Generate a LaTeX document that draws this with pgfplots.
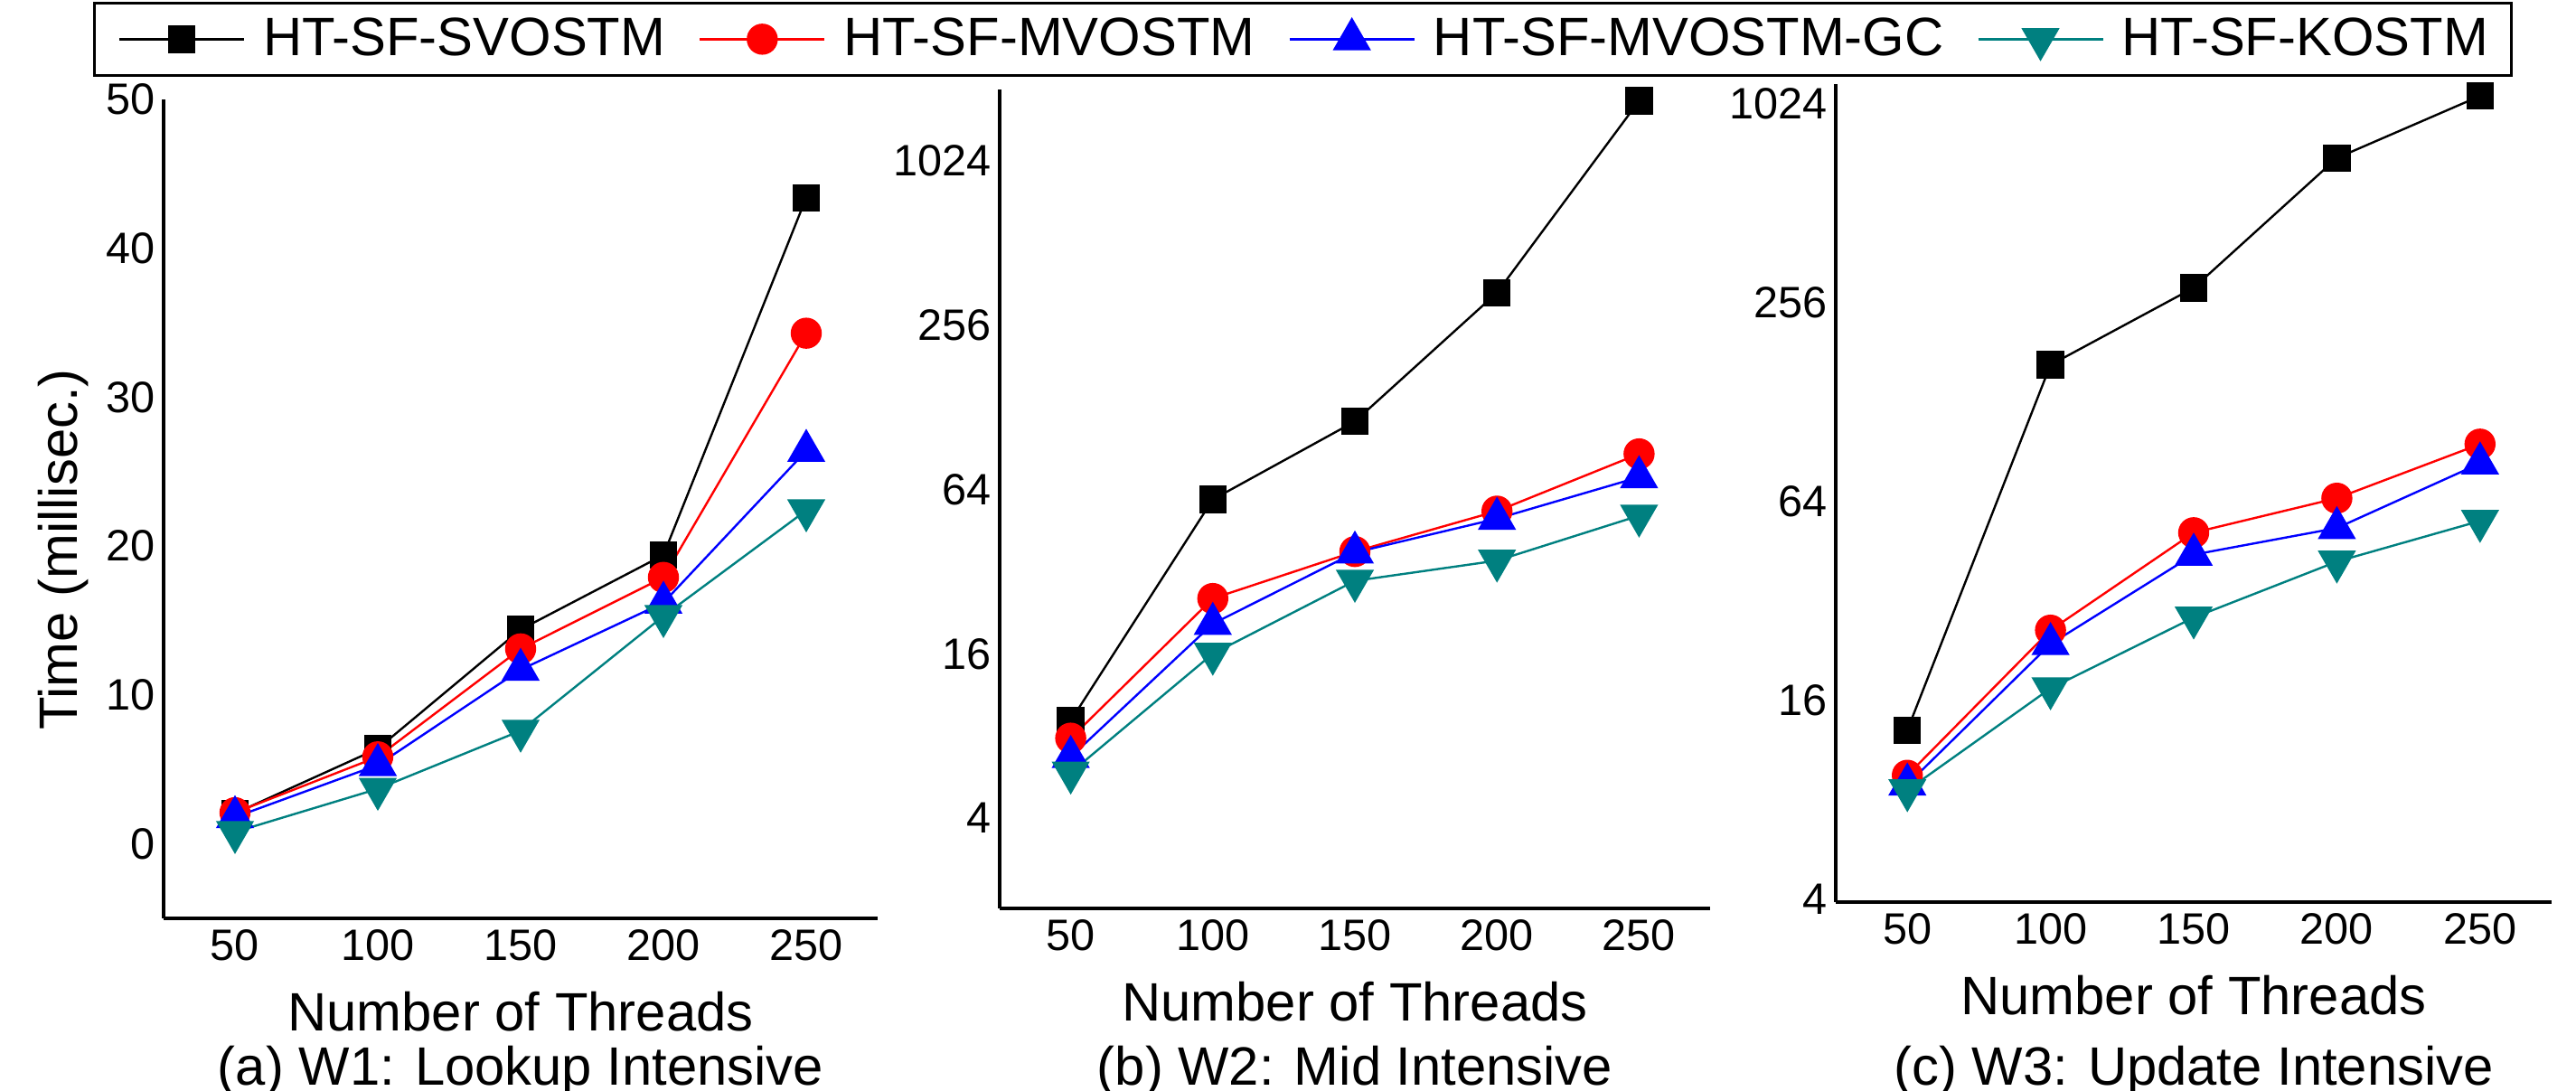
\documentclass[border=0pt]{standalone}
\usepackage{fontspec}
\setmainfont{Liberation Sans}
\usepackage{pgfplots}
\pgfplotsset{compat=1.18}

\definecolor{kteal}{RGB}{0,128,128}

\tikzset{subcap/.style={anchor=base, inner sep=0pt, font=\fontsize{15}{15}\selectfont}}

\pgfplotsset{
  panel/.style={
    scale only axis,
    axis lines=left,
    axis line style={-, line width=1.1bp},
    xmin=25, xmax=275,
    xtick={50,100,150,200,250},
    major tick length=0pt,
    tick label style={font=\fontsize{12.2}{12.2}\selectfont},
    /pgf/number format/assume math mode=true,
    xticklabel style={inner sep=0pt, yshift=-3bp},
    yticklabel style={inner sep=0pt, xshift=-2.25bp},
    xlabel={Number of Threads},
    xlabel style={at={(axis description cs:0.5,0)}, anchor=base, yshift=-31.2bp,
      inner sep=0pt, font=\fontsize{15}{15}\selectfont},
    clip=false,
  },
  svo/.style={black, line width=0.6bp, mark=square*, mark size=3.5bp, mark options={solid}},
  mvo/.style={red, line width=0.6bp, mark=*, mark size=4bp, mark options={solid}},
  mvogc/.style={blue, line width=0.6bp, mark=triangle*, mark size=5.5bp, mark options={solid}},
  ko/.style={kteal, line width=0.6bp, mark=triangle*, mark size=5.5bp, mark options={solid, rotate=180}},
}

\begin{document}
\begin{tikzpicture}
\path[use as bounding box] (0bp,0bp) rectangle (712.5bp,-301.75bp);

% (a) W1: Lookup Intensive
\begin{axis}[panel,
  at={(45.25bp,-254bp)}, anchor=south west,
  width=197.5bp, height=226.5bp,
  ymin=-5, ymax=50, ytick={0,10,20,30,40,50},
  ylabel={Time (millisec.)},
  ylabel style={at={(axis description cs:-0.1405,0.4503)}, anchor=center,
    inner sep=0pt, font=\fontsize{15}{15}\selectfont},
  legend columns=4,
  legend style={at={(axis description cs:1.596,1.1192)}, anchor=north,
    draw=black, line width=0.75bp, inner xsep=6.5bp, inner ysep=4bp,
    font=\fontsize{15}{15}\selectfont, nodes={inner sep=0pt},
    /tikz/every odd column/.append style={column sep=5bp},
    /tikz/every even column/.append style={column sep=9.25bp}},
  legend image code/.code={\draw[mark repeat=2, mark phase=2]
    plot coordinates {(0bp,0bp) (17.25bp,0bp) (34.5bp,0bp)};},
]
\addplot[svo] coordinates {(50,2.05) (100,6.4) (150,14.4) (200,19.4) (250,43.4)};
\addlegendentry{HT-SF-SVOSTM}
\addplot[mvo] coordinates {(50,2.1) (100,5.85) (150,13.1) (200,17.9) (250,34.3)};
\addlegendentry{HT-SF-MVOSTM}
\addplot[mvogc] coordinates {(50,1.8) (100,5.3) (150,11.7) (200,16.2) (250,26.4)};
\addlegendentry{HT-SF-MVOSTM-GC}
\addplot[ko] coordinates {(50,0.8) (100,3.7) (150,7.6) (200,15.3) (250,22.4)};
\addlegendentry{HT-SF-KOSTM}
\end{axis}

% (b) W2: Mid Intensive
\begin{axis}[panel,
  at={(276.5bp,-251.25bp)}, anchor=south west,
  width=196.5bp, height=226.5bp,
  ymode=log, log basis y=2,
  ymin=1.866, ymax=1870,
  ytick={4,16,64,256,1024}, yticklabels={4,16,64,256,1024},
]
\addplot[svo] coordinates {(50,9.1) (100,58.8) (150,113.6) (200,336.6) (250,1698)};
\addplot[mvo] coordinates {(50,7.85) (100,25.5) (150,37.9) (200,53.3) (250,86.4)};
\addplot[mvogc] coordinates {(50,6.7) (100,20.6) (150,37.6) (200,50) (250,71)};
\addplot[ko] coordinates {(50,5.87) (100,16.0) (150,29.6) (200,35.1) (250,51.3)};
\end{axis}

% (c) W3: Update Intensive
\begin{axis}[panel,
  at={(507.75bp,-249.5bp)}, anchor=south west,
  width=198bp, height=226.25bp,
  ymode=log, log basis y=2,
  ymin=3.92, ymax=1176,
  ytick={4,16,64,256,1024}, yticklabels={4,16,64,256,1024},
]
\addplot[svo] coordinates {(50,13.0) (100,166) (150,284) (200,702) (250,1082)};
\addplot[mvo] coordinates {(50,9.49) (100,26.1) (150,51.5) (200,65.5) (250,95.5)};
\addplot[mvogc] coordinates {(50,8.9) (100,23.7) (150,44.2) (200,53.2) (250,83.5)};
\addplot[ko] coordinates {(50,8.55) (100,17.4) (150,28.5) (200,42.1) (250,55.9)};
\end{axis}

% sub-figure captions, on a common baseline
\node[subcap] at (144bp,-300bp) {(a) W1: Lookup Intensive};
\node[subcap] at (374.75bp,-300bp) {(b) W2: Mid Intensive};
\node[subcap] at (606.75bp,-300bp) {(c) W3: Update Intensive};
\end{tikzpicture}
\end{document}
